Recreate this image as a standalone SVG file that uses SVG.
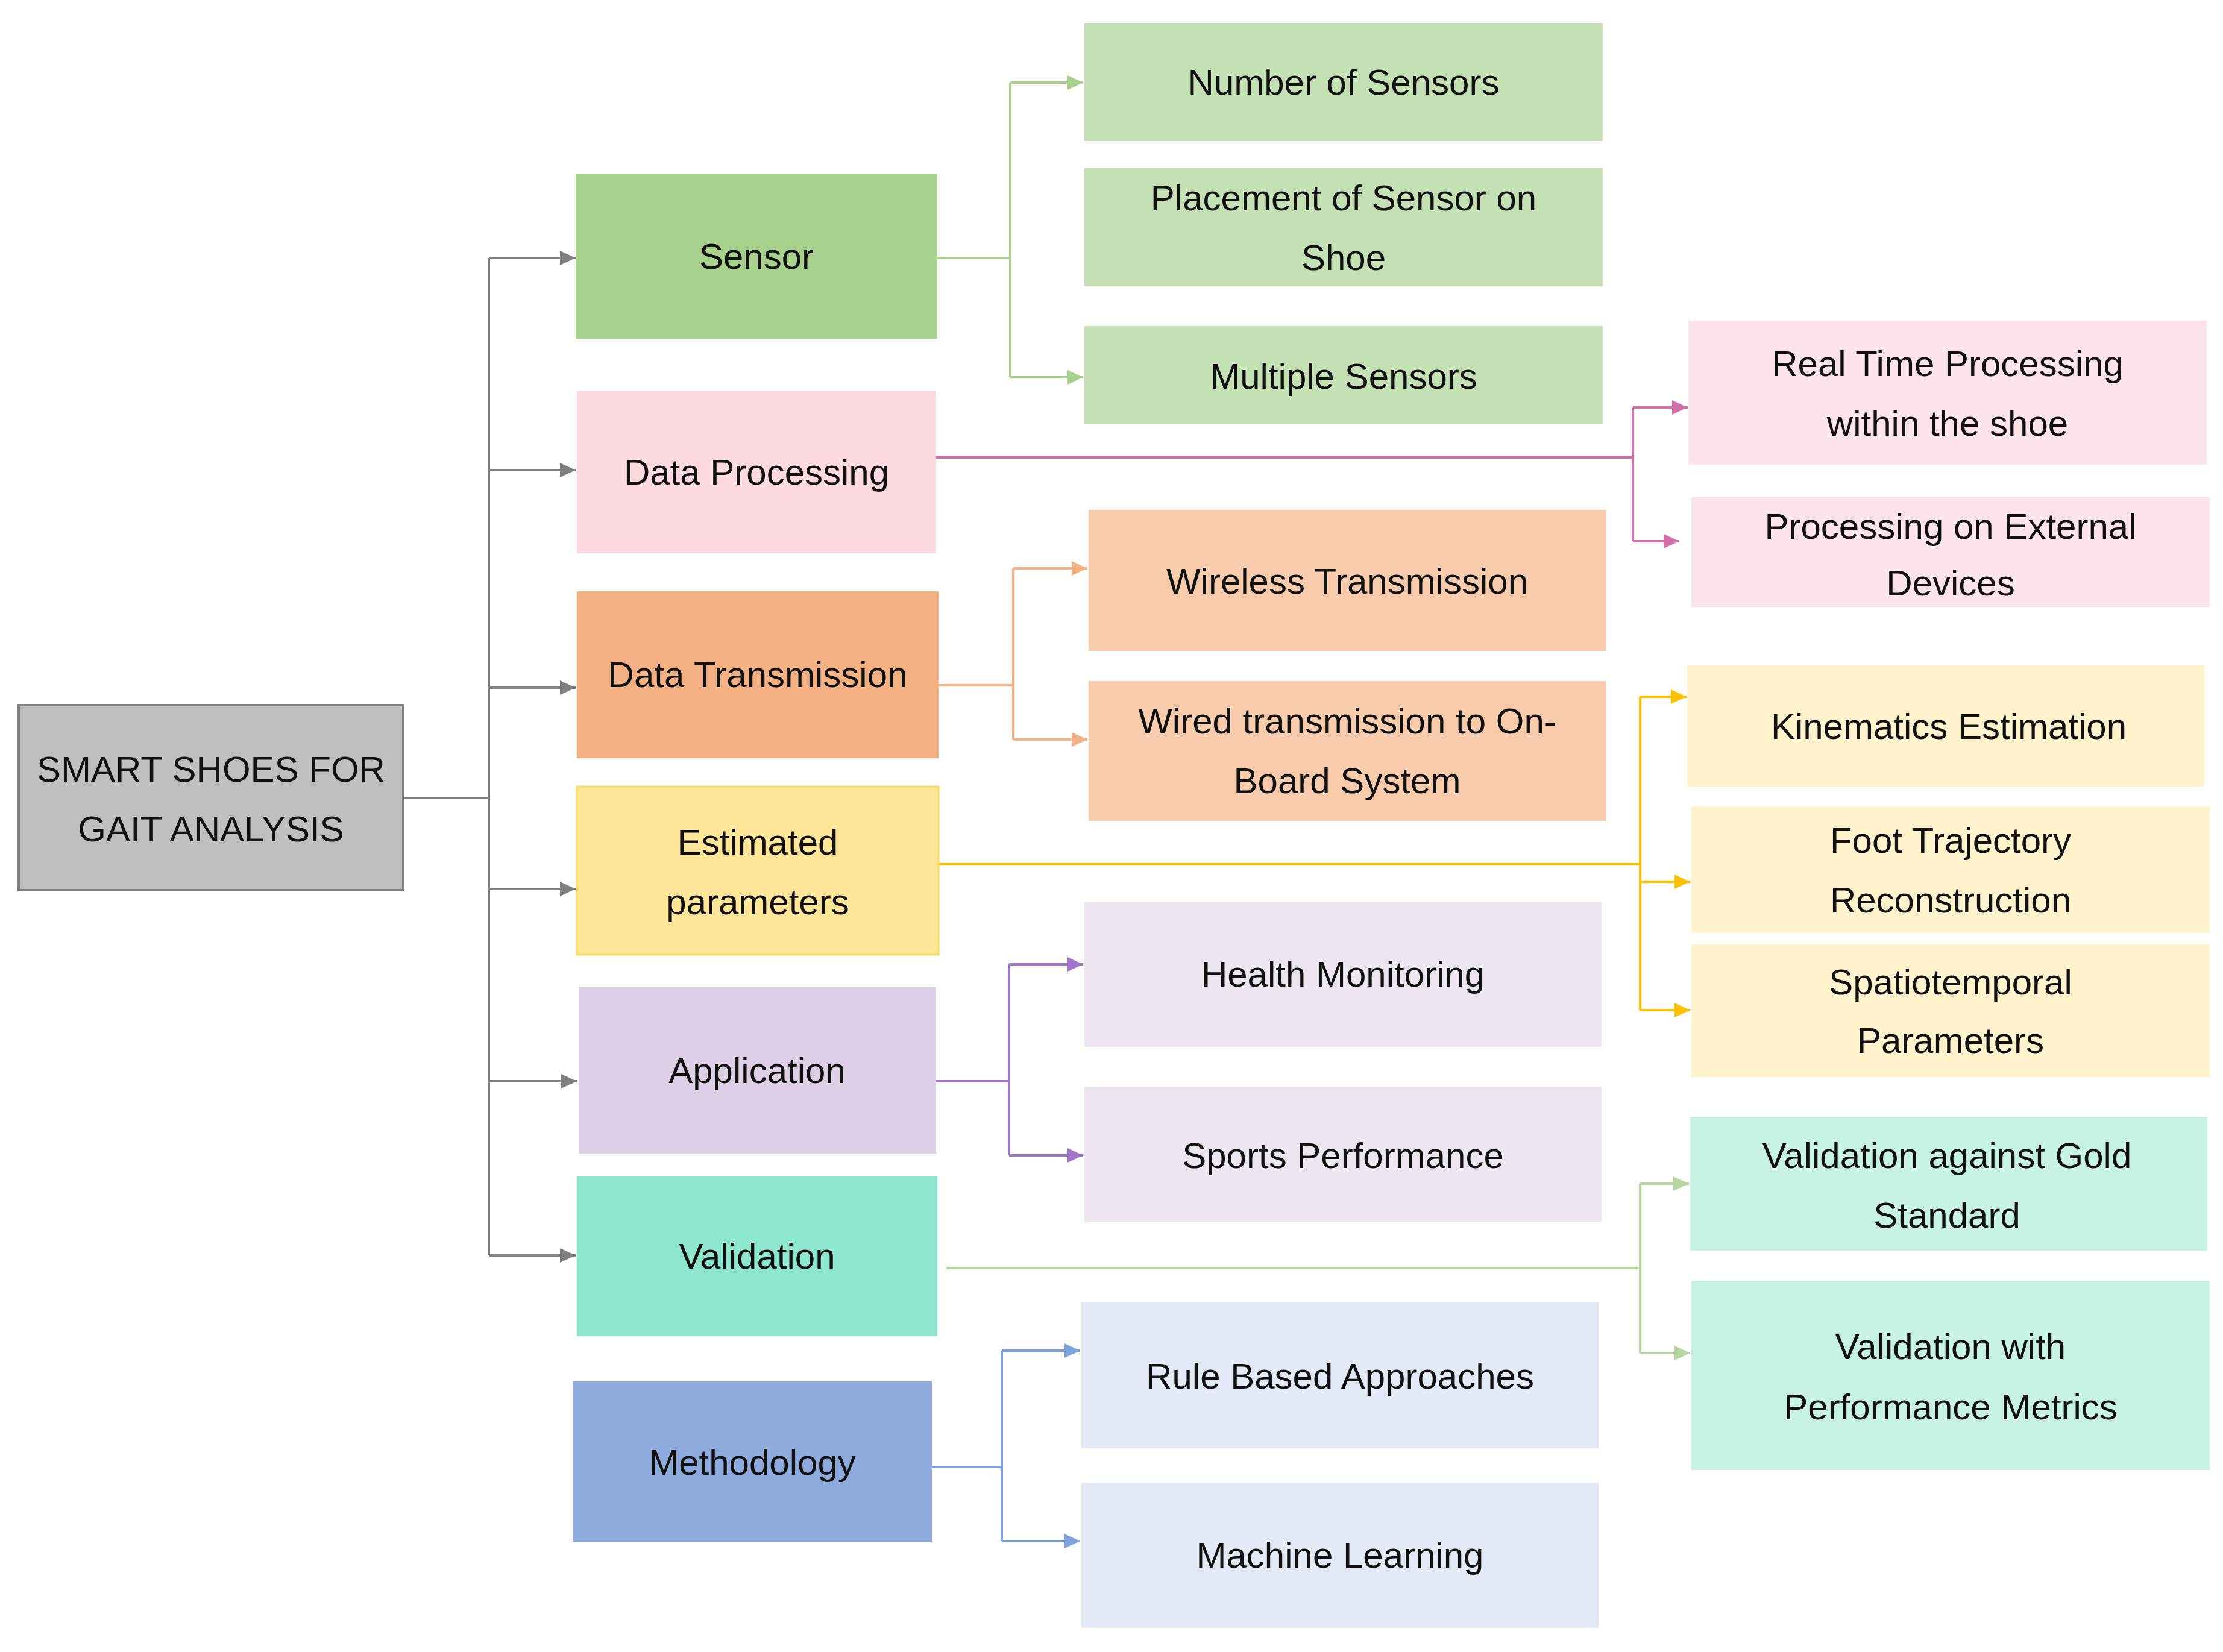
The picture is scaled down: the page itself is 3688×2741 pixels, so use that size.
<svg xmlns="http://www.w3.org/2000/svg" width="3688" height="2741" viewBox="0 0 3688 2741">
<style>
text{font-family:"Liberation Sans","Open Sans",sans-serif;font-size:60px;fill:#111;text-anchor:middle;dominant-baseline:central}
.c{fill:none;stroke-width:4}
</style>
<defs>
<marker id="ag" markerUnits="userSpaceOnUse" markerWidth="26" markerHeight="24" refX="26" refY="12" orient="auto"><path d="M0,0L26,12L0,24z" fill="#7f7f7f"/></marker>
<marker id="agr" markerUnits="userSpaceOnUse" markerWidth="26" markerHeight="24" refX="26" refY="12" orient="auto"><path d="M0,0L26,12L0,24z" fill="#a9d18e"/></marker>
<marker id="ap" markerUnits="userSpaceOnUse" markerWidth="26" markerHeight="24" refX="26" refY="12" orient="auto"><path d="M0,0L26,12L0,24z" fill="#d36fa8"/></marker>
<marker id="ao" markerUnits="userSpaceOnUse" markerWidth="26" markerHeight="24" refX="26" refY="12" orient="auto"><path d="M0,0L26,12L0,24z" fill="#f4b183"/></marker>
<marker id="ay" markerUnits="userSpaceOnUse" markerWidth="26" markerHeight="24" refX="26" refY="12" orient="auto"><path d="M0,0L26,12L0,24z" fill="#ffc000"/></marker>
<marker id="au" markerUnits="userSpaceOnUse" markerWidth="26" markerHeight="24" refX="26" refY="12" orient="auto"><path d="M0,0L26,12L0,24z" fill="#a274c8"/></marker>
<marker id="av" markerUnits="userSpaceOnUse" markerWidth="26" markerHeight="24" refX="26" refY="12" orient="auto"><path d="M0,0L26,12L0,24z" fill="#b4d7a0"/></marker>
<marker id="ab" markerUnits="userSpaceOnUse" markerWidth="26" markerHeight="24" refX="26" refY="12" orient="auto"><path d="M0,0L26,12L0,24z" fill="#7fa2dc"/></marker>
</defs>
<rect width="3688" height="2741" fill="#fff"/>
<g id="connectors">
<path class="c" stroke="#7f7f7f" d="M669,1324H811M811,428V2083"/>
<path class="c" stroke="#7f7f7f" marker-end="url(#ag)" d="M811,428H955"/>
<path class="c" stroke="#7f7f7f" marker-end="url(#ag)" d="M811,780H955"/>
<path class="c" stroke="#7f7f7f" marker-end="url(#ag)" d="M811,1141H955"/>
<path class="c" stroke="#7f7f7f" marker-end="url(#ag)" d="M811,1475H955"/>
<path class="c" stroke="#7f7f7f" marker-end="url(#ag)" d="M811,1794H957"/>
<path class="c" stroke="#7f7f7f" marker-end="url(#ag)" d="M811,2083H955"/>
<path class="c" stroke="#a9d18e" d="M1555,428H1676M1676,137V626"/>
<path class="c" stroke="#a9d18e" marker-end="url(#agr)" d="M1676,137H1797"/>
<path class="c" stroke="#a9d18e" marker-end="url(#agr)" d="M1676,626H1797"/>
<path class="c" stroke="#d36fa8" d="M1550,759H2709M2709,676V898"/>
<path class="c" stroke="#d36fa8" marker-end="url(#ap)" d="M2709,676H2800"/>
<path class="c" stroke="#d36fa8" marker-end="url(#ap)" d="M2709,898H2786"/>
<path class="c" stroke="#f4b183" d="M1557,1137H1681M1681,943V1227"/>
<path class="c" stroke="#f4b183" marker-end="url(#ao)" d="M1681,943H1804"/>
<path class="c" stroke="#f4b183" marker-end="url(#ao)" d="M1681,1227H1804"/>
<path class="c" stroke="#ffc000" d="M1557,1434H2721M2721,1156V1676"/>
<path class="c" stroke="#ffc000" marker-end="url(#ay)" d="M2721,1156H2798"/>
<path class="c" stroke="#ffc000" marker-end="url(#ay)" d="M2721,1463H2804"/>
<path class="c" stroke="#ffc000" marker-end="url(#ay)" d="M2721,1676H2804"/>
<path class="c" stroke="#a274c8" d="M1553,1794H1674M1674,1600V1917"/>
<path class="c" stroke="#a274c8" marker-end="url(#au)" d="M1674,1600H1797"/>
<path class="c" stroke="#a274c8" marker-end="url(#au)" d="M1674,1917H1797"/>
<path class="c" stroke="#b4d7a0" d="M1570,2104H2721M2721,1964V2245"/>
<path class="c" stroke="#b4d7a0" marker-end="url(#av)" d="M2721,1964H2802"/>
<path class="c" stroke="#b4d7a0" marker-end="url(#av)" d="M2721,2245H2804"/>
<path class="c" stroke="#7fa2dc" d="M1546,2434H1662M1662,2241V2557"/>
<path class="c" stroke="#7fa2dc" marker-end="url(#ab)" d="M1662,2241H1792"/>
<path class="c" stroke="#7fa2dc" marker-end="url(#ab)" d="M1662,2557H1792"/>
</g>
<g id="root"><rect x="31" y="1170" width="638" height="307" fill="#bfbfbf" stroke="#7f7f7f" stroke-width="4"/><text x="350" y="1276">SMART SHOES FOR</text><text x="350" y="1375">GAIT ANALYSIS</text></g>
<g id="sensor"><rect x="955" y="288" width="600" height="274" fill="#a9d18e"/><text x="1255" y="425">Sensor</text></g>
<g id="dataproc"><rect x="957" y="648" width="596" height="270" fill="#fcdae0"/><text x="1255" y="783">Data Processing</text></g>
<g id="datatrans"><rect x="957" y="981" width="600" height="277" fill="#f4b183"/><text x="1257" y="1119">Data Transmission</text></g>
<g id="estimated"><rect x="957" y="1305" width="600" height="279" fill="#ffe699" stroke="#ffd966" stroke-width="3"/><text x="1257" y="1397">Estimated</text><text x="1257" y="1496">parameters</text></g>
<g id="application"><rect x="960" y="1638" width="593" height="277" fill="#ddd0e6"/><text x="1256" y="1776">Application</text></g>
<g id="validation"><rect x="957" y="1952" width="598" height="265" fill="#8ee6cf"/><text x="1256" y="2084">Validation</text></g>
<g id="methodology"><rect x="950" y="2292" width="596" height="267" fill="#8faadc"/><text x="1248" y="2426">Methodology</text></g>
<g id="numsensors"><rect x="1799" y="38" width="860" height="196" fill="#c5e0b4"/><text x="2229" y="136">Number of Sensors</text></g>
<g id="placement"><rect x="1799" y="279" width="860" height="196" fill="#c5e0b4"/><text x="2229" y="328">Placement of Sensor on</text><text x="2229" y="427">Shoe</text></g>
<g id="multiple"><rect x="1799" y="541" width="860" height="163" fill="#c5e0b4"/><text x="2229" y="624">Multiple Sensors</text></g>
<g id="realtime"><rect x="2801" y="532" width="860" height="239" fill="#fce4e9"/><text x="3231" y="603">Real Time Processing</text><text x="3231" y="702">within the shoe</text></g>
<g id="external"><rect x="2806" y="825" width="860" height="182" fill="#fce4e9"/><text x="3236" y="873">Processing on External</text><text x="3236" y="967">Devices</text></g>
<g id="wireless"><rect x="1806" y="846" width="858" height="234" fill="#f8cbad"/><text x="2235" y="964">Wireless Transmission</text></g>
<g id="wired"><rect x="1806" y="1130" width="858" height="232" fill="#f8cbad"/><text x="2235" y="1196">Wired transmission to On-</text><text x="2235" y="1295">Board System</text></g>
<g id="kinematics"><rect x="2799" y="1104" width="858" height="201" fill="#fff2cc"/><text x="3233" y="1205">Kinematics Estimation</text></g>
<g id="foot"><rect x="2806" y="1338" width="860" height="210" fill="#fff2cc"/><text x="3236" y="1394">Foot Trajectory</text><text x="3236" y="1493">Reconstruction</text></g>
<g id="spatio"><rect x="2806" y="1567" width="860" height="220" fill="#fff2cc"/><text x="3236" y="1629">Spatiotemporal</text><text x="3236" y="1726">Parameters</text></g>
<g id="health"><rect x="1799" y="1496" width="858" height="241" fill="#ede6f0"/><text x="2228" y="1616">Health Monitoring</text></g>
<g id="sports"><rect x="1799" y="1803" width="858" height="225" fill="#ede6f0"/><text x="2228" y="1917">Sports Performance</text></g>
<g id="valgold"><rect x="2804" y="1853" width="858" height="222" fill="#c9f2e6"/><text x="3230" y="1917">Validation against Gold</text><text x="3230" y="2016">Standard</text></g>
<g id="valperf"><rect x="2806" y="2125" width="860" height="314" fill="#c9f2e6"/><text x="3236" y="2234">Validation with</text><text x="3236" y="2334">Performance Metrics</text></g>
<g id="rule"><rect x="1794" y="2160" width="858" height="243" fill="#e3eaf6"/><text x="2223" y="2283">Rule Based Approaches</text></g>
<g id="ml"><rect x="1794" y="2460" width="858" height="241" fill="#e3eaf6"/><text x="2223" y="2580">Machine Learning</text></g>
</svg>
